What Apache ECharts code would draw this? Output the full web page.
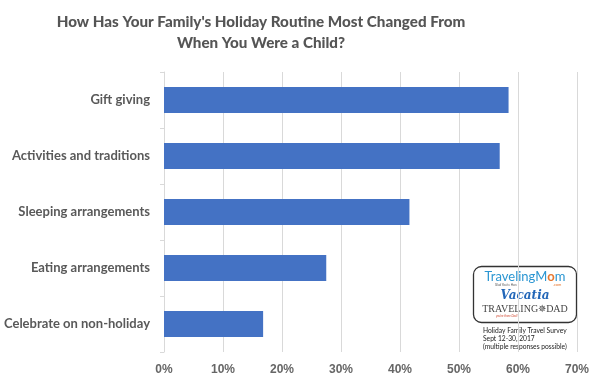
<!DOCTYPE html>
<html>
<head>
<meta charset="utf-8">
<script src="https://cdn.jsdelivr.net/npm/echarts@6/dist/echarts.min.js"></script>
<style>
html,body{margin:0;padding:0;background:#fff;}
#chart{width:600px;height:388px;}
</style>
</head>
<body>
<div id="chart"></div>
<script>
var categories = ["Gift giving", "Activities and traditions", "Sleeping arrangements", "Eating arrangements", "Celebrate on non-holiday"];
var values = [58.4, 56.9, 41.6, 27.5, 16.8];
var axisMax = 70;
var axisStep = 10;
var titleText = "How Has Your Family's Holiday Routine Most Changed From\nWhen You Were a Child?";
var noteLines = ["Holiday Family Travel Survey", "Sept 12-30, 2017", "(multiple responses possible)"];

var chart = echarts.init(document.getElementById('chart'));
chart.setOption({
  animation: false,
  backgroundColor: '#ffffff',
  grid: { left: 164, right: 23, top: 72, bottom: 36, containLabel: false },
  xAxis: {
    type: 'value',
    min: 0,
    max: axisMax,
    interval: axisStep,
    axisLine: { show: false },
    axisTick: { show: false },
    splitLine: { show: true, lineStyle: { color: '#d9d9d9', width: 1 } },
    axisLabel: {
      formatter: '{value}%',
      margin: 12,
      fontFamily: 'Liberation Sans, Arial',
      fontWeight: 'bold',
      fontSize: 12,
      color: '#666666'
    }
  },
  yAxis: {
    type: 'category',
    inverse: true,
    data: categories,
    axisLine: { show: true, lineStyle: { color: '#d9d9d9', width: 1 } },
    axisTick: { show: true, length: 4, lineStyle: { color: '#d9d9d9' } },
    axisLabel: {
      margin: 14,
      fontFamily: 'Lato',
      fontWeight: 'bold',
      fontSize: 13,
      color: '#595959'
    }
  },
  series: [{
    type: 'bar',
    data: values,
    barWidth: 26,
    itemStyle: { color: '#4472c4' }
  }],
  graphic: [
    {
      type: 'text',
      x: 261, y: 12,
      style: {
        text: titleText,
        align: 'center', verticalAlign: 'top',
        fontFamily: 'Lato', fontWeight: 900, fontSize: 15.2, lineHeight: 21,
        fill: '#555555'
      }
    },
    {
      type: 'rect',
      shape: { x: 473.5, y: 266.5, width: 103, height: 56, r: 8 },
      style: { fill: '#ffffff', stroke: '#333333', lineWidth: 1.3 }
    },
    {
      type: 'text',
      x: 525, y: 277,
      style: {
        text: '{a|TravelingM}{b|o}{a|m}',
        align: 'center', verticalAlign: 'middle',
        rich: {
          a: { fontFamily: 'Lato', fontSize: 13, fill: '#2b96d2', fontWeight: 'normal' },
          b: { fontFamily: 'Lato', fontSize: 13, fill: '#e8772e', fontWeight: 'bold' }
        }
      }
    },
    {
      type: 'text',
      x: 495, y: 285,
      style: { text: 'Glad You\'re Here', fontSize: 3, fill: '#555', fontFamily: 'Lato', verticalAlign: 'middle' }
    },
    {
      type: 'text',
      x: 553, y: 285,
      style: { text: '.com', fontSize: 4, fill: '#e8772e', fontFamily: 'Lato', verticalAlign: 'middle' }
    },
    {
      type: 'text',
      x: 525, y: 296,
      style: {
        text: 'Vacatia', align: 'center', verticalAlign: 'middle',
        fontFamily: 'DejaVu Serif', fontStyle: 'italic', fontWeight: 'bold', fontSize: 12, fill: '#2266b8'
      }
    },
    {
      type: 'text',
      x: 525, y: 309,
      style: {
        text: 'TRAVELING\u2735DAD', align: 'center', verticalAlign: 'middle',
        fontFamily: 'Liberation Serif', fontSize: 10, fill: '#444444'
      }
    },
    {
      type: 'text',
      x: 496, y: 316,
      style: { text: 'you\'re there Dad!', fontSize: 3, fill: '#d0452c', fontFamily: 'Lato', fontStyle: 'italic', verticalAlign: 'middle' }
    },
    {
      type: 'text',
      x: 483, y: 327,
      style: {
        text: noteLines.join('\n'),
        fontFamily: 'Lato', fontSize: 6.7, lineHeight: 8, fill: '#222222',
        verticalAlign: 'top'
      }
    }
  ]
});
</script>
</body>
</html>
